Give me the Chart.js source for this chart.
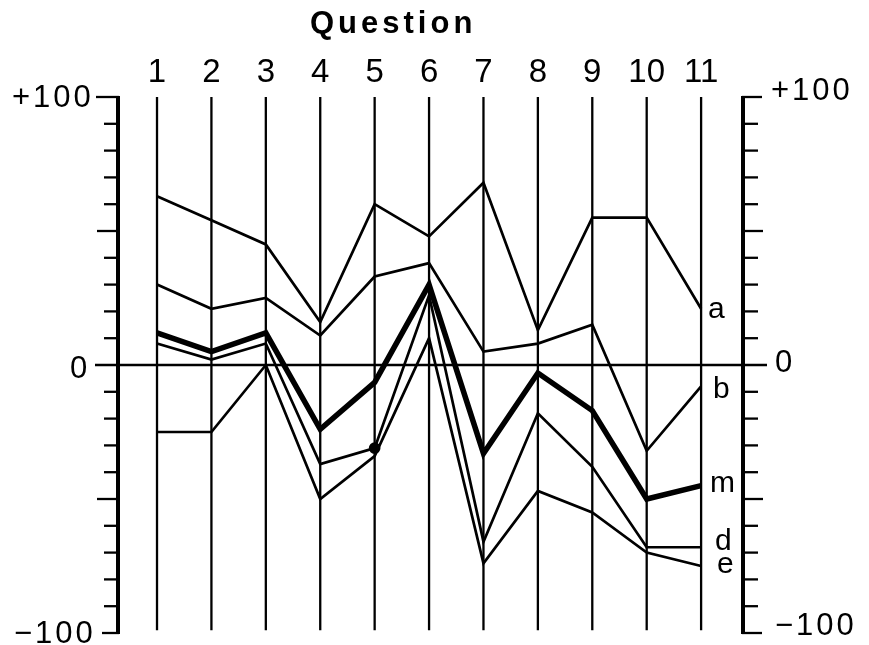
<!DOCTYPE html>
<html>
<head>
<meta charset="utf-8">
<script src="https://cdn.jsdelivr.net/npm/chart.js@4/dist/chart.umd.min.js"></script>
<style>
    html, body { margin:0; padding:0; background:#fff; }
    #wrap { width:869px; height:645px; }
</style>
</head>
<body>
<div id="wrap"><canvas id="profileChart" width="869" height="645"></canvas></div>
<script>

/* DATA */

const questions = [1, 2, 3, 4, 5, 6, 7, 8, 9, 10, 11];

const seriesA = [63, 54, 45, 16, 60, 48, 68, 13, 55, 55, 21];
const seriesB = [30, 21, 25, 11, 33, 38, 5, 8, 15, -32, -8];
const seriesM = [12, 5, 12, -24, -6.5, 30, -33, -3, -17, -50, -45];
const seriesD = [8, 2, 8, -37, -31, 26, -66, -18, -38, -68, -68];
const seriesE = [-25, -25, 0, -50, -34, 10, -74, -47, -55, -70, -75];

const seriesNames = ["a", "b", "m", "d", "e"];

const yTicks = [-100, -90, -80, -70, -60, -50, -40, -30, -20, -10, 0, 10, 20, 30, 40, 50, 60, 70, 80, 90, 100];
const yLabels = ["+100", "0", "\u2212100"];

const FONT = "'Liberation Sans', 'DejaVu Sans', sans-serif";

function toPoints(values){
    return values.map((v, i) => ({ x: questions[i], y: v }));
}

function lineSet(name, values, width){
    return {
        label: name,
        data: toPoints(values),
        borderColor: "#000",
        backgroundColor: "#000",
        borderWidth: width,
        pointRadius: 0,
        tension: 0,
        fill: false,
        borderJoinStyle: "miter"
    };
}

const dsD = lineSet("d", seriesD, 2.7);
// the single dot on question 5
dsD.pointRadius = seriesD.map((v, i) => questions[i] === 5 ? 4.5 : 0);

function spacing(c, px){
    if(c.letterSpacing !== undefined) c.letterSpacing = px + "px";
}

/* AXES, GRID AND TEXT */

const framePlugin = {
    id: "frame",
    beforeDatasetsDraw(chart){
        const c = chart.ctx;
        const xs = chart.scales.x;
        const ys = chart.scales.y;
        const area = chart.chartArea;

        c.save();
        c.strokeStyle = "#000";
        c.lineCap = "butt";

        // question verticals
        c.lineWidth = 2.3;
        questions.forEach(q => {
            const px = xs.getPixelForValue(q);
            c.beginPath();
            c.moveTo(px, ys.getPixelForValue(100));
            c.lineTo(px, ys.getPixelForValue(-99));
            c.stroke();
        });

        // zero line
        const y0 = ys.getPixelForValue(0);
        c.lineWidth = 2.5;
        c.beginPath();
        c.moveTo(area.left - 23, y0);
        c.lineTo(area.right + 24, y0);
        c.stroke();

        // left and right axes
        c.lineWidth = 4;
        [area.left, area.right].forEach(px => {
            c.beginPath();
            c.moveTo(px, ys.getPixelForValue(100) - 1);
            c.lineTo(px, ys.getPixelForValue(-100) + 1);
            c.stroke();
        });

        c.lineWidth = 2.3;
        yTicks.forEach(t => {
            if(t === 0) return;
            const py = ys.getPixelForValue(t);
            let len = 14;
            if(Math.abs(t) === 50) len = 21;
            // left side
            c.beginPath();
            if(t === 100){
                c.moveTo(area.left - 22, py);
                c.lineTo(area.left + 1, py);
            }else if(t === -100){
                c.moveTo(area.left - 16, py);
                c.lineTo(area.left + 1, py);
            }else{
                c.moveTo(area.left - len, py);
                c.lineTo(area.left, py);
            }
            c.stroke();
            // right side
            c.beginPath();
            if(Math.abs(t) === 100){
                c.moveTo(area.right - 1, py);
                c.lineTo(area.right + 19, py);
            }else{
                c.moveTo(area.right, py);
                c.lineTo(area.right + (len === 14 ? 15 : 20), py);
            }
            c.stroke();
        });

        c.restore();
    },
    afterDraw(chart){
        const c = chart.ctx;
        const xs = chart.scales.x;
        const ys = chart.scales.y;
        const area = chart.chartArea;

        c.save();
        c.fillStyle = "#000";
        c.textBaseline = "alphabetic";

        // title
        c.font = "bold 31px " + FONT;
        c.textAlign = "left";
        spacing(c, 4);
        c.fillText("Question", 310, 33);
        spacing(c, 0);

        // question numbers
        c.font = "33px " + FONT;
        c.textAlign = "center";
        questions.forEach(q => {
            c.fillText(String(q), xs.getPixelForValue(q), 82);
        });

        // axis labels (left edges placed so spacing stays even)
        c.font = "31px " + FONT;
        c.textAlign = "left";
        spacing(c, 3);
        c.fillText(yLabels[0], 12, 107);
        c.fillText(yLabels[1], 70, 378);
        c.fillText(yLabels[2], 14, 643);

        c.fillText(yLabels[0], area.right + 28, 100);
        c.fillText(yLabels[1], area.right + 32, 372);
        c.fillText(yLabels[2], area.right + 32, 635);
        spacing(c, 0);

        // series names at question 11
        c.font = "30px " + FONT;
        const last = questions.length - 1;
        const lastVals = [seriesA[last], seriesB[last], seriesM[last], seriesD[last], seriesE[last]];
        const dy = [9, 12, 6, 3, 7];
        const dx = [7, 12, 9, 14, 16];
        const x11 = xs.getPixelForValue(questions[last]);
        seriesNames.forEach((n, i) => {
            c.fillText(n, x11 + dx[i], ys.getPixelForValue(lastVals[i]) + dy[i]);
        });

        c.restore();
    }
};

const chart = new Chart(document.getElementById("profileChart"), {
    type: "line",
    data: {
        datasets: [
            lineSet("a", seriesA, 2.7),
            lineSet("b", seriesB, 2.7),
            lineSet("m", seriesM, 5.5),
            dsD,
            lineSet("e", seriesE, 2.7)
        ]
    },
    options: {
        responsive: false,
        animation: false,
        devicePixelRatio: 1,
        layout: {
            padding: { left: 118, right: 126, top: 97, bottom: 12 }
        },
        plugins: {
            legend: { display: false },
            tooltip: { enabled: false }
        },
        scales: {
            x: {
                type: "linear",
                min: 0.283,
                max: 11.77,
                display: false
            },
            y: {
                type: "linear",
                min: -100,
                max: 100,
                display: false
            }
        }
    },
    plugins: [framePlugin]
});

</script>
</body>
</html>
